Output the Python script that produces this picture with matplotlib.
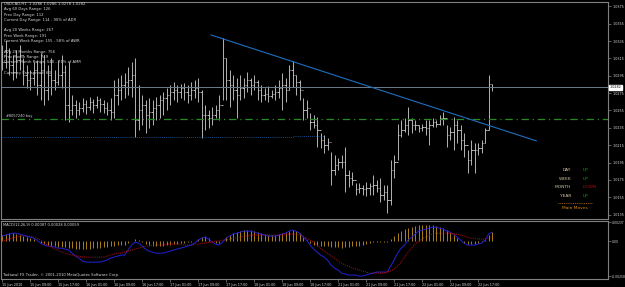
import matplotlib.pyplot as plt
import numpy as np

# USDCAD H1 bars, 15 Jun 2010 01:00 -> 22 Jun 2010 20:00
highs = [1.0330, 1.0336, 1.0327, 1.0319, 1.0325, 1.0330, 1.0315, 1.0307, 1.0302, 1.0311,
         1.0313, 1.0321, 1.0319, 1.0307, 1.0315, 1.0302, 1.0313, 1.0319, 1.0307, 1.0311,
         1.0273, 1.0267, 1.0265, 1.0269, 1.0267, 1.0270, 1.0268, 1.0272, 1.0269, 1.0267,
         1.0265, 1.0269, 1.0290, 1.0293, 1.0296, 1.0298, 1.0305, 1.0311, 1.0315, 1.0284,
         1.0273, 1.0267, 1.0269, 1.0267, 1.0270, 1.0273, 1.0276, 1.0281, 1.0284, 1.0288,
         1.0284, 1.0285, 1.0287, 1.0284, 1.0288, 1.0290, 1.0293, 1.0279, 1.0261, 1.0256,
         1.0259, 1.0261, 1.0273, 1.0338, 1.0315, 1.0302, 1.0296, 1.0293, 1.0296, 1.0292,
         1.0299, 1.0292, 1.0296, 1.0290, 1.0284, 1.0281, 1.0283, 1.0279, 1.0284, 1.0290,
         1.0298, 1.0292, 1.0307, 1.0312, 1.0296, 1.0290, 1.0269, 1.0267, 1.0252, 1.0250,
         1.0247, 1.0229, 1.0227, 1.0223, 1.0207, 1.0204, 1.0200, 1.0204, 1.0213, 1.0187,
         1.0184, 1.0172, 1.0172, 1.0169, 1.0173, 1.0172, 1.0181, 1.0175, 1.0177, 1.0169,
         1.0169, 1.0198, 1.0204, 1.0240, 1.0244, 1.0246, 1.0259, 1.0246, 1.0244, 1.0238,
         1.0240, 1.0244, 1.0244, 1.0246, 1.0244, 1.0250, 1.0253, 1.0238, 1.0236, 1.0247,
         1.0244, 1.0238, 1.0229, 1.0210, 1.0221, 1.0218, 1.0218, 1.0221, 1.0235, 1.0296,
         1.0286]
lows = [1.0302, 1.0304, 1.0296, 1.0290, 1.0292, 1.0302, 1.0284, 1.0281, 1.0279, 1.0284,
        1.0273, 1.0267, 1.0261, 1.0267, 1.0273, 1.0279, 1.0284, 1.0281, 1.0244, 1.0242,
        1.0250, 1.0246, 1.0250, 1.0253, 1.0251, 1.0256, 1.0252, 1.0258, 1.0253, 1.0252,
        1.0250, 1.0244, 1.0246, 1.0261, 1.0267, 1.0269, 1.0273, 1.0270, 1.0224, 1.0233,
        1.0238, 1.0229, 1.0235, 1.0238, 1.0244, 1.0246, 1.0250, 1.0256, 1.0261, 1.0267,
        1.0265, 1.0269, 1.0267, 1.0264, 1.0267, 1.0269, 1.0265, 1.0223, 1.0233, 1.0235,
        1.0238, 1.0246, 1.0244, 1.0267, 1.0267, 1.0259, 1.0267, 1.0246, 1.0267, 1.0269,
        1.0276, 1.0273, 1.0279, 1.0267, 1.0265, 1.0267, 1.0265, 1.0269, 1.0267, 1.0269,
        1.0256, 1.0265, 1.0279, 1.0282, 1.0273, 1.0267, 1.0244, 1.0246, 1.0233, 1.0235,
        1.0213, 1.0212, 1.0206, 1.0210, 1.0169, 1.0181, 1.0187, 1.0189, 1.0161, 1.0167,
        1.0169, 1.0158, 1.0160, 1.0158, 1.0157, 1.0158, 1.0158, 1.0161, 1.0150, 1.0152,
        1.0137, 1.0146, 1.0177, 1.0198, 1.0224, 1.0230, 1.0227, 1.0229, 1.0233, 1.0230,
        1.0231, 1.0227, 1.0215, 1.0236, 1.0236, 1.0238, 1.0238, 1.0213, 1.0221, 1.0210,
        1.0218, 1.0210, 1.0201, 1.0183, 1.0192, 1.0183, 1.0204, 1.0206, 1.0218, 1.0233,
        1.0278]
closes = [1.0311, 1.0325, 1.0307, 1.0299, 1.0313, 1.0319, 1.0296, 1.0290, 1.0292, 1.0302,
          1.0284, 1.0302, 1.0279, 1.0296, 1.0290, 1.0288, 1.0296, 1.0299, 1.0261, 1.0256,
          1.0261, 1.0256, 1.0258, 1.0262, 1.0259, 1.0265, 1.0261, 1.0267, 1.0262, 1.0258,
          1.0256, 1.0253, 1.0273, 1.0279, 1.0284, 1.0288, 1.0290, 1.0296, 1.0244, 1.0256,
          1.0261, 1.0250, 1.0253, 1.0258, 1.0261, 1.0267, 1.0269, 1.0273, 1.0276, 1.0279,
          1.0276, 1.0281, 1.0276, 1.0273, 1.0279, 1.0281, 1.0276, 1.0250, 1.0250, 1.0246,
          1.0250, 1.0256, 1.0261, 1.0315, 1.0290, 1.0284, 1.0279, 1.0273, 1.0281, 1.0284,
          1.0290, 1.0284, 1.0288, 1.0279, 1.0273, 1.0274, 1.0272, 1.0274, 1.0276, 1.0281,
          1.0284, 1.0279, 1.0302, 1.0296, 1.0288, 1.0279, 1.0256, 1.0258, 1.0242, 1.0238,
          1.0233, 1.0221, 1.0215, 1.0219, 1.0187, 1.0192, 1.0196, 1.0196, 1.0181, 1.0177,
          1.0175, 1.0164, 1.0166, 1.0164, 1.0166, 1.0168, 1.0169, 1.0166, 1.0158, 1.0161,
          1.0152, 1.0187, 1.0196, 1.0227, 1.0233, 1.0238, 1.0244, 1.0238, 1.0238, 1.0235,
          1.0236, 1.0235, 1.0238, 1.0242, 1.0240, 1.0246, 1.0246, 1.0227, 1.0230, 1.0238,
          1.0233, 1.0221, 1.0215, 1.0198, 1.0210, 1.0210, 1.0212, 1.0218, 1.0233, 1.0286,
          1.0282]
FIRST_OPEN = 1.0322

# MACD(12,26,9) sub window
macd_main = [0.00034, 0.00041, 0.00048, 0.00054, 0.00054, 0.00048, 0.00041, 0.00034, 0.00027, 0.00020,
             0.00007, -0.00014, -0.00027, -0.00034, -0.00034, -0.00041, -0.00048, -0.00048, -0.00054, -0.00061,
             -0.00082, -0.00102, -0.00116, -0.00136, -0.00143, -0.00143, -0.00143, -0.00143, -0.00143, -0.00136,
             -0.00129, -0.00116, -0.00109, -0.00102, -0.00095, -0.00095, -0.00061, -0.00027, -0.00007, -0.00014,
             -0.00034, -0.00054, -0.00068, -0.00075, -0.00082, -0.00082, -0.00082, -0.00075, -0.00068, -0.00061,
             -0.00054, -0.00048, -0.00041, -0.00034, -0.00027, -0.00014, 0.00007, 0.00020, 0.00027, 0.00014,
             -0.00007, -0.00020, -0.00027, -0.00007, 0.00020, 0.00034, 0.00048, 0.00054, 0.00061, 0.00068,
             0.00068, 0.00068, 0.00061, 0.00054, 0.00048, 0.00041, 0.00034, 0.00034, 0.00034, 0.00041,
             0.00048, 0.00054, 0.00068, 0.00075, 0.00068, 0.00054, 0.00027, 0.00007, -0.00027, -0.00054,
             -0.00075, -0.00095, -0.00109, -0.00129, -0.00163, -0.00184, -0.00197, -0.00218, -0.00224, -0.00231,
             -0.00231, -0.00231, -0.00238, -0.00238, -0.00231, -0.00224, -0.00218, -0.00211, -0.00211, -0.00211,
             -0.00211, -0.00170, -0.00129, -0.00082, -0.00048, -0.00027, 0.00007, 0.00027, 0.00048, 0.00068,
             0.00075, 0.00082, 0.00088, 0.00095, 0.00095, 0.00088, 0.00082, 0.00068, 0.00061, 0.00048,
             0.00027, 0.00007, -0.00014, -0.00027, -0.00027, -0.00027, -0.00020, -0.00014, 0.00007, 0.00048,
             0.00061]
macd_signal = [0.0, 0.00007, 0.00014, 0.00020, 0.00027, 0.00034, 0.00034, 0.00034, 0.00034, 0.00027,
               0.00020, 0.00007, -0.00014, -0.00027, -0.00041, -0.00054, -0.00061, -0.00075, -0.00082, -0.00088,
               -0.00095, -0.00102, -0.00102, -0.00109, -0.00109, -0.00109, -0.00109, -0.00109, -0.00109, -0.00109,
               -0.00102, -0.00095, -0.00088, -0.00082, -0.00082, -0.00075, -0.00068, -0.00061, -0.00054, -0.00048,
               -0.00041, -0.00034, -0.00034, -0.00027, -0.00027, -0.00027, -0.00027, -0.00020, -0.00020, -0.00020,
               -0.00020, -0.00020, -0.00027, -0.00027, -0.00027, -0.00020, -0.00020, -0.00014, -0.00014, -0.00007,
               -0.00007, 0.0, 0.0, 0.00007, 0.00007, 0.00014, 0.00020, 0.00020, 0.00027, 0.00034,
               0.00034, 0.00041, 0.00041, 0.00041, 0.00041, 0.00041, 0.00041, 0.00041, 0.00041, 0.00041,
               0.00041, 0.00048, 0.00048, 0.00048, 0.00048, 0.00041, 0.00034, 0.00020, 0.00007, -0.00007,
               -0.00027, -0.00048, -0.00068, -0.00082, -0.00102, -0.00116, -0.00136, -0.00150, -0.00163, -0.00170,
               -0.00184, -0.00190, -0.00197, -0.00204, -0.00211, -0.00218, -0.00218, -0.00218, -0.00218, -0.00218,
               -0.00211, -0.00204, -0.00190, -0.00170, -0.00143, -0.00109, -0.00075, -0.00048, -0.00020, 0.0,
               0.00014, 0.00027, 0.00041, 0.00048, 0.00054, 0.00054, 0.00054, 0.00054, 0.00054, 0.00048,
               0.00048, 0.00041, 0.00034, 0.00027, 0.00020, 0.00020, 0.00014, 0.00014, 0.00014, 0.00020,
               0.00027]
macd_hist = [0.00041, 0.00048, 0.00054, 0.00054, 0.00048, 0.00041, 0.00034, 0.00027, 0.00020, 0.00014,
             0.0, -0.00014, -0.00020, -0.00027, -0.00034, -0.00034, -0.00041, -0.00041, -0.00041, -0.00048,
             -0.00048, -0.00054, -0.00054, -0.00054, -0.00054, -0.00054, -0.00048, -0.00048, -0.00048, -0.00041,
             -0.00041, -0.00034, -0.00034, -0.00027, -0.00027, -0.00027, -0.00014, 0.0, 0.00014, 0.00007,
             -0.00007, -0.00020, -0.00027, -0.00034, -0.00034, -0.00034, -0.00034, -0.00027, -0.00027, -0.00020,
             -0.00020, -0.00014, -0.00014, -0.00007, -0.00007, 0.0, 0.00014, 0.00027, 0.00034, 0.00020,
             0.0, -0.00014, -0.00014, 0.0, 0.00027, 0.00041, 0.00054, 0.00061, 0.00068, 0.00075,
             0.00075, 0.00075, 0.00068, 0.00061, 0.00054, 0.00048, 0.00041, 0.00041, 0.00041, 0.00048,
             0.00054, 0.00061, 0.00068, 0.00075, 0.00068, 0.00054, 0.00027, 0.00007, -0.00014, -0.00027,
             -0.00034, -0.00034, -0.00034, -0.00034, -0.00041, -0.00041, -0.00041, -0.00048, -0.00041, -0.00041,
             -0.00034, -0.00034, -0.00034, -0.00027, -0.00020, -0.00014, -0.00007, -0.00007, -0.00007, -0.00007,
             -0.00007, 0.00014, 0.00034, 0.00054, 0.00068, 0.00082, 0.00088, 0.00095, 0.00102, 0.00109,
             0.00109, 0.00109, 0.00109, 0.00109, 0.00102, 0.00095, 0.00088, 0.00075, 0.00061, 0.00041,
             0.00020, 0.0, -0.00014, -0.00020, -0.00020, -0.00020, -0.00014, -0.00007, 0.00007, 0.00041,
             0.00061]

time_labels = ['15 Jun 2010', '15 Jun 09:00', '15 Jun 17:00', '16 Jun 01:00', '16 Jun 09:00',
               '16 Jun 17:00', '17 Jun 01:00', '17 Jun 09:00', '17 Jun 17:00', '18 Jun 01:00',
               '18 Jun 09:00', '18 Jun 17:00', '21 Jun 01:00', '21 Jun 09:00', '21 Jun 17:00',
               '22 Jun 01:00', '22 Jun 09:00', '22 Jun 17:00']
price_ticks = [1.0375, 1.0355, 1.0335, 1.0315, 1.0295, 1.0275, 1.0255, 1.0235,
               1.0215, 1.0195, 1.0175, 1.0155, 1.0135]

CURRENT = 1.0282
ORDER_LEVEL = 1.0245          # green dash-dot, "#8057240 buy"
STOP_LEVELS = [1.0224, 1.0226]  # blue dotted segments
STOP_BREAK = 83
trend_x = [59.7, 152.6]
trend_y = [1.0342, 1.0220]

info_lines = ['USDCAD,H1  1.0286 1.0286 1.0278 1.0282',
              'Avg 60 Days Range: 126',
              'Prev Day Range: 112',
              'Current Day Range: 114 - 90% of ADR',
              '',
              'Avg 20 Weeks Range: 267',
              'Prev Week Range: 191',
              'Current Week Range: 155 - 58% of AWR',
              '',
              'Avg 20 Months Range: 756',
              'Prev Month Range: 749',
              'Current Month Range: 540 - 71% of AMR',
              '',
              'Currency Pair spread: 60']
moves = [('DAY', 'UP'), ('WEEK', 'UP'), ('MONTH', 'DOWN'), ('YEAR', 'UP')]

W, H = 625, 287
FG = '#d8d8d8'
GRID = '#808080'
SMALL = 2.4
plt.rcParams['font.family'] = 'DejaVu Sans'
plt.rcParams['font.size'] = SMALL


def fy(px):
    return 1 - px / H


fig = plt.figure(figsize=(W / 100, H / 100), dpi=100, facecolor='black')
ax = fig.add_axes([1 / W, fy(219), 607 / W, 217 / H], facecolor='black')
ax2 = fig.add_axes([1 / W, fy(279), 607 / W, 58 / H], facecolor='black')

idx = np.arange(len(closes))
opens = np.r_[FIRST_OPEN, closes[:-1]]

# price bars
ax.vlines(idx, lows, highs, color='#d0d0d0', lw=0.6)
ax.hlines(opens, idx - 0.4, idx, color='#d0d0d0', lw=0.6)
ax.hlines(closes, idx, idx + 0.4, color='#d0d0d0', lw=0.6)

ax.axhline(CURRENT, color='#6c7c8c', lw=0.7)
ax.axhline(ORDER_LEVEL, color='#228b22', lw=0.9, ls=(0, (6, 3, 1, 3)))
ax.hlines(STOP_LEVELS[0], -1, STOP_BREAK, color='#1c64b4', lw=0.6, ls=(0, (1, 1.5)))
ax.hlines(STOP_LEVELS[1], STOP_BREAK, 92, color='#1c64b4', lw=0.6, ls=(0, (1, 1.5)))
ax.plot(trend_x, trend_y, color='#1e6fc0', lw=0.8)
ax.text(1, ORDER_LEVEL + 0.0002, '#8057240 buy', color=FG, fontsize=2.5)

ax.set_xlim(-0.3, 173.1)
ax.set_ylim(1.0130, 1.0380)
ax.set_xticks([])
ax.yaxis.tick_right()
ax.set_yticks(price_ticks)
ax.set_yticklabels(['%.4f' % p for p in price_ticks])
ax.tick_params(axis='y', colors=FG, length=2, width=0.5, pad=1, labelsize=SMALL)
ax.tick_params(axis='y', color=GRID)
for s in ax.spines.values():
    s.set_color(GRID)
    s.set_linewidth(0.8)
ax.text(1.003, CURRENT, '%.4f' % CURRENT, transform=ax.get_yaxis_transform(),
        va='center', ha='left', color='black', fontsize=SMALL,
        bbox=dict(boxstyle='square,pad=0.15', fc='white', ec='white'))

# MACD panel
ax2.vlines(idx, 0, macd_hist, color='#c8961e', lw=0.6)
ax2.plot(idx, macd_main, color='#2222d8', lw=0.7)
ax2.plot(idx, macd_signal, color='#c01010', lw=0.7, ls=(0, (1, 1.2)))
ax2.set_xlim(-0.3, 173.1)
ax2.set_ylim(-0.00258, 0.00137)
ax2.yaxis.tick_right()
ax2.set_yticks([0.00130, 0.0, -0.00240])
ax2.set_yticklabels(['0.00237', '0.00', '-0.00258'])
ax2.set_xticks(np.arange(len(time_labels)) * 8)
ax2.set_xticklabels(time_labels, ha='left')
ax2.tick_params(axis='both', colors=FG, length=2, width=0.5, pad=1, labelsize=SMALL)
ax2.tick_params(axis='y', pad=0.6, labelsize=2.2)
ax2.tick_params(axis='both', color=GRID)
for s in ax2.spines.values():
    s.set_color(GRID)
    s.set_linewidth(0.8)
ax2.text(0.004, 0.93, 'MACD(12,26,9) 0.00087 0.00028 0.00059', transform=ax2.transAxes,
         color=FG, fontsize=2.6, va='center')
ax2.text(0.004, 0.07, 'Tadawul FX Trader, \u00a9 2001-2010 MetaQuotes Software Corp.',
         transform=ax2.transAxes, color=FG, fontsize=2.7, va='center')

# info block top left
for k, line in enumerate(info_lines):
    fig.text(4 / W, fy(4 + 5.3 * k), line, color=FG, fontsize=2.7, va='center')

# trend summary on the right
for k, (name, state) in enumerate(moves):
    y = fy(170 + 8.7 * k)
    fig.text(571 / W, y, name, color='#d2c3a5', fontsize=3.2, ha='right', va='center')
    fig.text(583 / W, y, state, color='#c00000' if state == 'DOWN' else '#00b400',
             fontsize=3.2, ha='left', va='center')
fig.add_artist(plt.Line2D([558 / W, 592 / W], [fy(203), fy(203)], color='#c87814',
                          lw=0.6, ls=(0, (1, 1.2))))
fig.text(575 / W, fy(208), 'Main Moves', color='#d88a10', fontsize=3.2, ha='center', va='center')

fig.savefig('out.png', dpi=100, facecolor='black')
